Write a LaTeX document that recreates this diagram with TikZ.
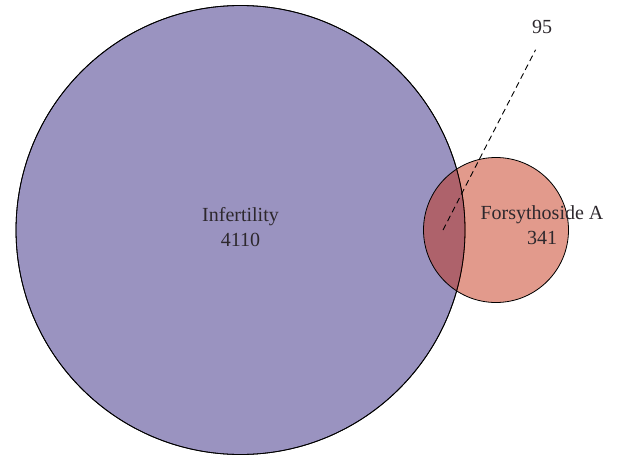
\documentclass[tikz,border=0pt]{standalone}
\usepackage{fontspec}
\setmainfont{Liberation Serif}
\definecolor{infcol}{RGB}{154,147,192}
\definecolor{forcol}{RGB}{196,49,20}
\definecolor{txtcol}{RGB}{45,40,45}
\begin{document}
\begin{tikzpicture}[x=1pt, y=-1pt,
  set/.style={circle, draw=black, line width=0.8pt, inner sep=0pt},
  lbl/.style={font=\fontsize{20}{25}\selectfont, text=txtcol, align=center}]
  \useasboundingbox (0,0) rectangle (617,455);
  %[sets]
  \node[set, fill=infcol, minimum size=449pt] (infertility) at (240.5,230) {};
  \node[set, fill=forcol, fill opacity=0.49, minimum size=145pt] (forsythoside) at (496,230) {};
  \node[set, minimum size=449pt] at (infertility) {};
  %[labels]
  \node[lbl] (inflbl) at (240.5,227) {Infertility\\4110};
  \node[lbl] (forlbl) at (542,225) {Forsythoside A\\341};
  \node[lbl] (count) at (542,27) {95};
  \coordinate (overlap) at (443,230);
  \draw[dash pattern=on 6pt off 4pt, line width=0.9pt, shorten >=14pt] (overlap) -- (count.south);
\end{tikzpicture}
\end{document}
